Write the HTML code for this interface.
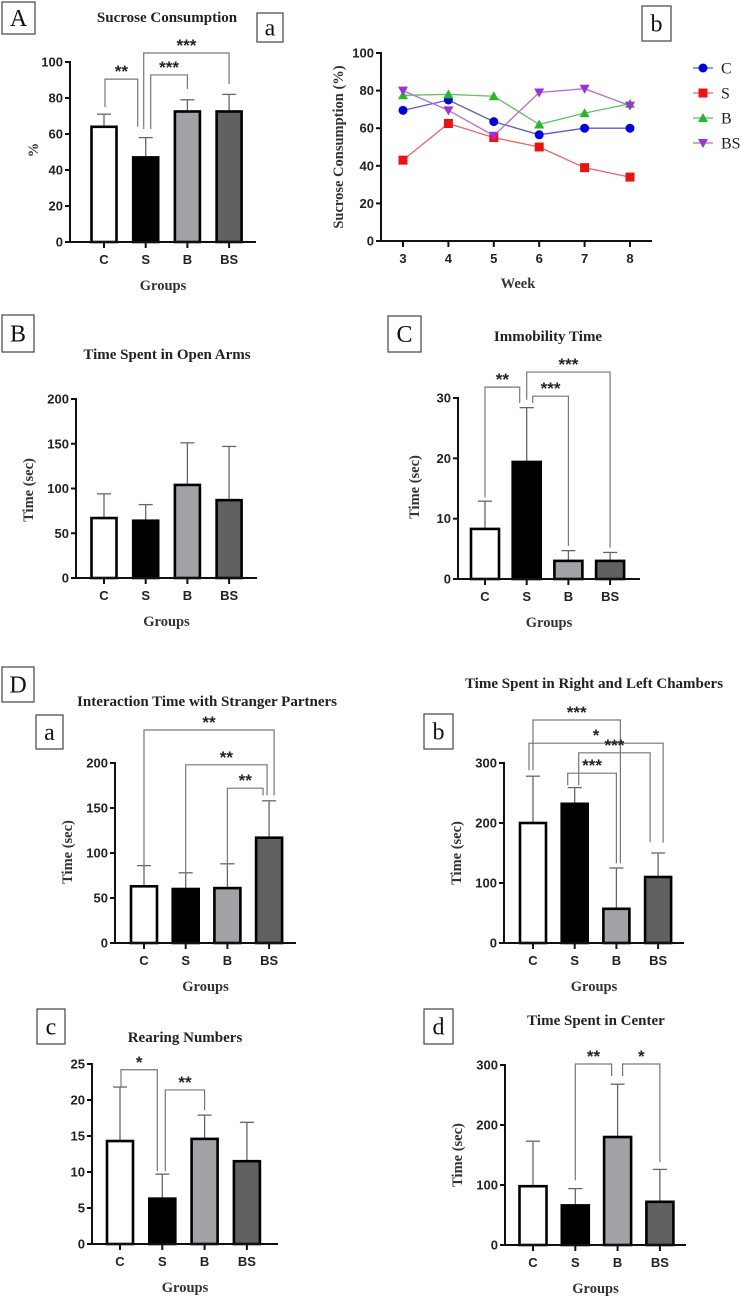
<!DOCTYPE html>
<html><head><meta charset="utf-8">
<style>
html,body{margin:0;padding:0;background:#fff;}
svg{display:block;}
.ttl{font-family:"Liberation Serif",serif;font-weight:bold;font-size:15px;fill:#222;}
.tick{font-family:"Liberation Sans",sans-serif;font-weight:bold;font-size:13px;fill:#222;}
.axt{font-family:"Liberation Serif",serif;font-weight:bold;font-size:14.5px;fill:#333;}
.box{font-family:"Liberation Serif",serif;font-size:24px;fill:#111;}
.star{font-family:"Liberation Sans",sans-serif;font-weight:bold;font-size:17px;fill:#222;}
.leg{font-family:"Liberation Serif",serif;font-size:16px;fill:#222;}
</style></head>
<body>
<svg id="fig" width="742" height="1299" viewBox="0 0 742 1299" xmlns="http://www.w3.org/2000/svg"></svg>
<script>
// ===== DATA =====
const groups = ["C","S","B","BS"];
const barFills = ["#ffffff","#000000","#a3a3a7","#616161"];
// Panel Aa sucrose consumption
const aaMeans = [64, 47, 72.5, 72.5];
const aaErr = [7, 11, 6.5, 9.5];
const aaTicks = [0,20,40,60,80,100];
// Panel Ab weekly sucrose
const weeks = [3,4,5,6,7,8];
const abC = [69.5, 75, 63.5, 56.5, 60, 60];
const abS = [43, 62.5, 55, 50, 39, 34];
const abB = [77.5, 78, 77, 62, 68, 73];
const abBS = [80, 69.5, 56, 79, 81, 72];
const abTicks = [0,20,40,60,80,100];
// Panel B open arms
const bMeans = [67, 64, 104, 87];
const bErr = [27, 18, 47, 60];
const bTicks = [0,50,100,150,200];
// Panel C immobility
const cMeans = [8.3, 19.4, 3, 3];
const cErr = [4.6, 9, 1.7, 1.4];
const cTicks = [0,10,20,30];
// Panel Da interaction
const daMeans = [63, 60, 61, 117];
const daErr = [23, 18, 27, 41];
const daTicks = [0,50,100,150,200];
// Panel Db chambers
const dbMeans = [200, 232, 57, 110];
const dbErr = [78, 27, 68, 40];
const dbTicks = [0,100,200,300];
// Panel Dc rearing
const dcMeans = [14.3, 6.3, 14.6, 11.5];
const dcErr = [7.5, 3.4, 3.3, 5.4];
const dcTicks = [0,5,10,15,20,25];
// Panel Dd center
const ddMeans = [98, 66, 180, 72];
const ddErr = [75, 28, 88, 54];
const ddTicks = [0,100,200,300];

const NS="http://www.w3.org/2000/svg";
const fig=document.getElementById('fig');
function mk(tag,attrs,parent,text){const e=document.createElementNS(NS,tag);for(const k in attrs)e.setAttribute(k,attrs[k]);if(text!==undefined)e.textContent=text;(parent||fig).appendChild(e);return e;}

function boxLabel(x,y,w,h,t,name){
  const g=mk('g',{});
  
  
  mk('rect',{x:x,y:y,width:w,height:h,fill:'#fff',stroke:'#444','stroke-width':1.2},g);
  mk('text',{x:x+w/2,y:y+h/2+8,'text-anchor':'middle',class:'box'},g,t);
}

function barPanel(p){
  const g=mk('g',{});
  
  
  const sy=v=>p.y0-(v-p.min)/(p.max-p.min)*(p.y0-p.yTop);
  const cx=i=>p.x0c+i*p.step;
  const t=mk('text',{x:p.tx,y:p.ty,'text-anchor':'middle',class:'ttl'},g,p.title);
  
  
  p.means.forEach((m,i)=>{
    const top=sy(m+p.err[i]);
    const el=mk('line',{x1:cx(i),x2:cx(i),y1:sy(m),y2:top,stroke:'#666','stroke-width':1.3},g);
    
    
    const cap=mk('line',{x1:cx(i)-7,x2:cx(i)+7,y1:top,y2:top,stroke:'#666','stroke-width':1.3},g);
    
    
    const r=mk('rect',{x:cx(i)-p.bw/2,y:sy(m),width:p.bw,height:p.y0-sy(m),fill:barFills[i],stroke:'#000','stroke-width':2.6},g);
    
    
  });
  mk('line',{x1:p.ax,x2:p.ax,y1:p.yTop-1,y2:p.y0+1,stroke:'#111','stroke-width':2},g);
  mk('line',{x1:p.ax-1,x2:p.axEnd,y1:p.y0,y2:p.y0,stroke:'#111','stroke-width':2},g);
  p.ticks.forEach(v=>{
    mk('line',{x1:p.ax-5,x2:p.ax,y1:sy(v),y2:sy(v),stroke:'#111','stroke-width':2},g);
    const tl=mk('text',{x:p.ax-7,y:sy(v)+4.5,'text-anchor':'end',class:'tick'},g,String(v));
    
    
  });
  groups.forEach((gname,i)=>{
    mk('line',{x1:cx(i),x2:cx(i),y1:p.y0,y2:p.y0+6,stroke:'#111','stroke-width':2},g);
    const tl=mk('text',{x:cx(i),y:p.y0+22,'text-anchor':'middle',class:'tick','font-size':'14px'},g,gname);
    
    
  });
  const xt=mk('text',{x:(p.ax+p.axEnd)/2,y:p.y0+48,'text-anchor':'middle',class:'axt'},g,'Groups');
  
  
  if(p.ylab){
    const yt=mk('text',{x:p.ylx,y:p.yly,'text-anchor':'middle',class:'axt',transform:'rotate(-90 '+p.ylx+' '+p.yly+')'},g,p.ylab);
    
    
  }
  (p.br||[]).forEach(b=>{
    const xa=cx(b[0])+b[5], xb=cx(b[1])+b[6], yy=sy(b[2]);
    const pl=mk('polyline',{points:xa+','+sy(b[3])+' '+xa+','+yy+' '+xb+','+yy+' '+xb+','+sy(b[4]),fill:'none',stroke:'#777','stroke-width':1.2},g);
    
    
    const st=mk('text',{x:(xa+xb)/2,y:yy-2,'text-anchor':'middle',class:'star'},g,b[7]);
    
    
  });
}

boxLabel(2,2,33,32,'A','panel-label-a-main');
boxLabel(257,13,26,29,'a','panel-label-a-sub');
boxLabel(642,6,29,35,'b','panel-label-b-sub');
boxLabel(2,315,32,37,'B','panel-label-b-main');
boxLabel(388,316,33,36,'C','panel-label-c-main');
boxLabel(2,667,32,35,'D','panel-label-d-main');
boxLabel(36,715,27,34,'a','panel-label-da');
boxLabel(424,714,29,35,'b','panel-label-db');
boxLabel(37,1009,28,35,'c','panel-label-dc');
boxLabel(424,1009,29,35,'d','panel-label-dd');

barPanel({name:'sucrose-consumption-chart',title:'Sucrose Consumption',tx:167,ty:22,means:aaMeans,err:aaErr,ticks:aaTicks,min:0,max:100,
  y0:242,yTop:62,ax:70,axEnd:256,x0c:104,step:41.7,bw:25,ylab:'%',ylx:38,yly:150,
  br:[[0,1,90.5,75,64,1,-8,'**'],[1,2,92.8,62.8,85,5,0,'***'],[1,3,105,62.8,87.8,-2,0,'***']]});
barPanel({name:'open-arms-chart',title:'Time Spent in Open Arms',tx:167,ty:359,means:bMeans,err:bErr,ticks:bTicks,min:0,max:200,
  y0:578,yTop:399,ax:76,axEnd:257,x0c:104,step:41.7,bw:25,ylab:'Time (sec)',ylx:33,yly:490});
barPanel({name:'immobility-chart',title:'Immobility Time',tx:548,ty:341,means:cMeans,err:cErr,ticks:cTicks,min:0,max:30,
  y0:579,yTop:398,ax:458,axEnd:640,x0c:485,step:41.7,bw:28,ylab:'Time (sec)',ylx:419,yly:487,
  br:[[0,1,31.8,13.5,29.2,0,-7,'**'],[1,2,30.3,29.2,5.5,6,0,'***'],[1,3,34.3,29.7,5.2,0,0,'***']]});
barPanel({name:'interaction-chart',title:'Interaction Time with Stranger Partners',tx:207,ty:706,means:daMeans,err:daErr,ticks:daTicks,min:0,max:200,
  y0:943,yTop:763,ax:115,axEnd:296,x0c:144,step:41.7,bw:26,ylab:'Time (sec)',ylx:72,yly:852,
  br:[[0,3,236.7,81,164,0,5,'**'],[1,3,198,73,164,0,-2,'**'],[2,3,172,84,164,0,-6,'**']]});
barPanel({name:'chambers-chart',title:'Time Spent in Right and Left Chambers',tx:594,ty:688,means:dbMeans,err:dbErr,ticks:dbTicks,min:0,max:300,
  y0:943,yTop:763,ax:504,axEnd:684,x0c:533,step:41.7,bw:26,ylab:'Time (sec)',ylx:461,yly:853,
  br:[[0,2,371.7,288,133,0,4,'***'],[0,3,333,288,167,-4,5,'*'],[1,3,317,263,168,4,-8,'***'],[1,2,283,263,133,-7,0,'***']]});
barPanel({name:'rearing-chart',title:'Rearing Numbers',tx:185,ty:1042,means:dcMeans,err:dcErr,ticks:dcTicks,min:0,max:25,
  y0:1244,yTop:1064,ax:92,axEnd:278,x0c:120,step:42.3,bw:26,
  br:[[0,1,24.2,21.8,10.1,1,-5,'*'],[1,2,21.4,10.1,18.6,3,0,'**']]});
barPanel({name:'center-time-chart',title:'Time Spent in Center',tx:596,ty:1025,means:ddMeans,err:ddErr,ticks:ddTicks,min:0,max:300,
  y0:1245,yTop:1065,ax:505,axEnd:686,x0c:533,step:42.3,bw:27,ylab:'Time (sec)',ylx:462,yly:1155,
  br:[[1,2,301.7,108,281.7,0,-6,'**'],[2,3,301.7,281.7,138,5,0,'*']]});

(function(){
  const g=mk('g',{});
  
  
  const ax=381,axEnd=652,y0=241,yTop=53;
  const sx=w=>403+(w-weeks[0])/(weeks[weeks.length-1]-weeks[0])*(630-403);
  const sy=v=>y0-v/100*(y0-yTop);
  mk('line',{x1:ax,x2:ax,y1:yTop-1,y2:y0+1,stroke:'#111','stroke-width':2},g);
  mk('line',{x1:ax-1,x2:axEnd,y1:y0,y2:y0,stroke:'#111','stroke-width':2},g);
  abTicks.forEach(v=>{
    mk('line',{x1:ax-5,x2:ax,y1:sy(v),y2:sy(v),stroke:'#111','stroke-width':2},g);
    const tl=mk('text',{x:ax-7,y:sy(v)+4.5,'text-anchor':'end',class:'tick'},g,String(v));
    
    
  });
  weeks.forEach(w=>{
    mk('line',{x1:sx(w),x2:sx(w),y1:y0,y2:y0+6,stroke:'#111','stroke-width':2},g);
    const tl=mk('text',{x:sx(w),y:y0+22,'text-anchor':'middle',class:'tick','font-size':'14px'},g,String(w));
    
    
  });
  const xt=mk('text',{x:518,y:288,'text-anchor':'middle',class:'axt'},g,'Week');
  
  
  const yt=mk('text',{x:343,y:147,'text-anchor':'middle',class:'axt',transform:'rotate(-90 343 147)'},g,'Sucrose Consumption (%)');
  
  
  const series=[["C",abC,'#0000e0','#5a5ad0','circle'],["S",abS,'#ee1111','#e06868','square'],["B",abB,'#22bb22','#60c060','up'],["BS",abBS,'#a030d8','#b070d8','down']];
  function marker(shape,x,y,col,parent){
    let m;
    if(shape==='circle')m=mk('circle',{cx:x,cy:y,r:4.5,fill:col},parent);
    else if(shape==='square')m=mk('rect',{x:x-4.5,y:y-4.5,width:9,height:9,fill:col},parent);
    else if(shape==='up')m=mk('polygon',{points:(x-5)+','+(y+4)+' '+(x+5)+','+(y+4)+' '+x+','+(y-5),fill:col},parent);
    else m=mk('polygon',{points:(x-5)+','+(y-4)+' '+(x+5)+','+(y-4)+' '+x+','+(y+5),fill:col},parent);
    return m;
  }
  series.forEach((s,k)=>{
    const sg=mk('g',{},g);
    
    
    const pts=s[1].map((v,i)=>sx(weeks[i])+','+sy(v)).join(' ');
    const pl=mk('polyline',{points:pts,fill:'none',stroke:s[3],'stroke-width':1.3},sg);
    
    
    s[1].forEach((v,i)=>{
      const m=marker(s[4],sx(weeks[i]),sy(v),s[2],sg);
      
      
    });
    const ly=68+k*25;
    const lg=mk('g',{},g);
    
    
    mk('line',{x1:693,x2:713,y1:ly,y2:ly,stroke:s[3],'stroke-width':1.3},lg);
    marker(s[4],703,ly,s[2],lg);
    mk('text',{x:721,y:ly+5.5,class:'leg'},lg,s[0]);
  });
})();
</script>
</body></html>
